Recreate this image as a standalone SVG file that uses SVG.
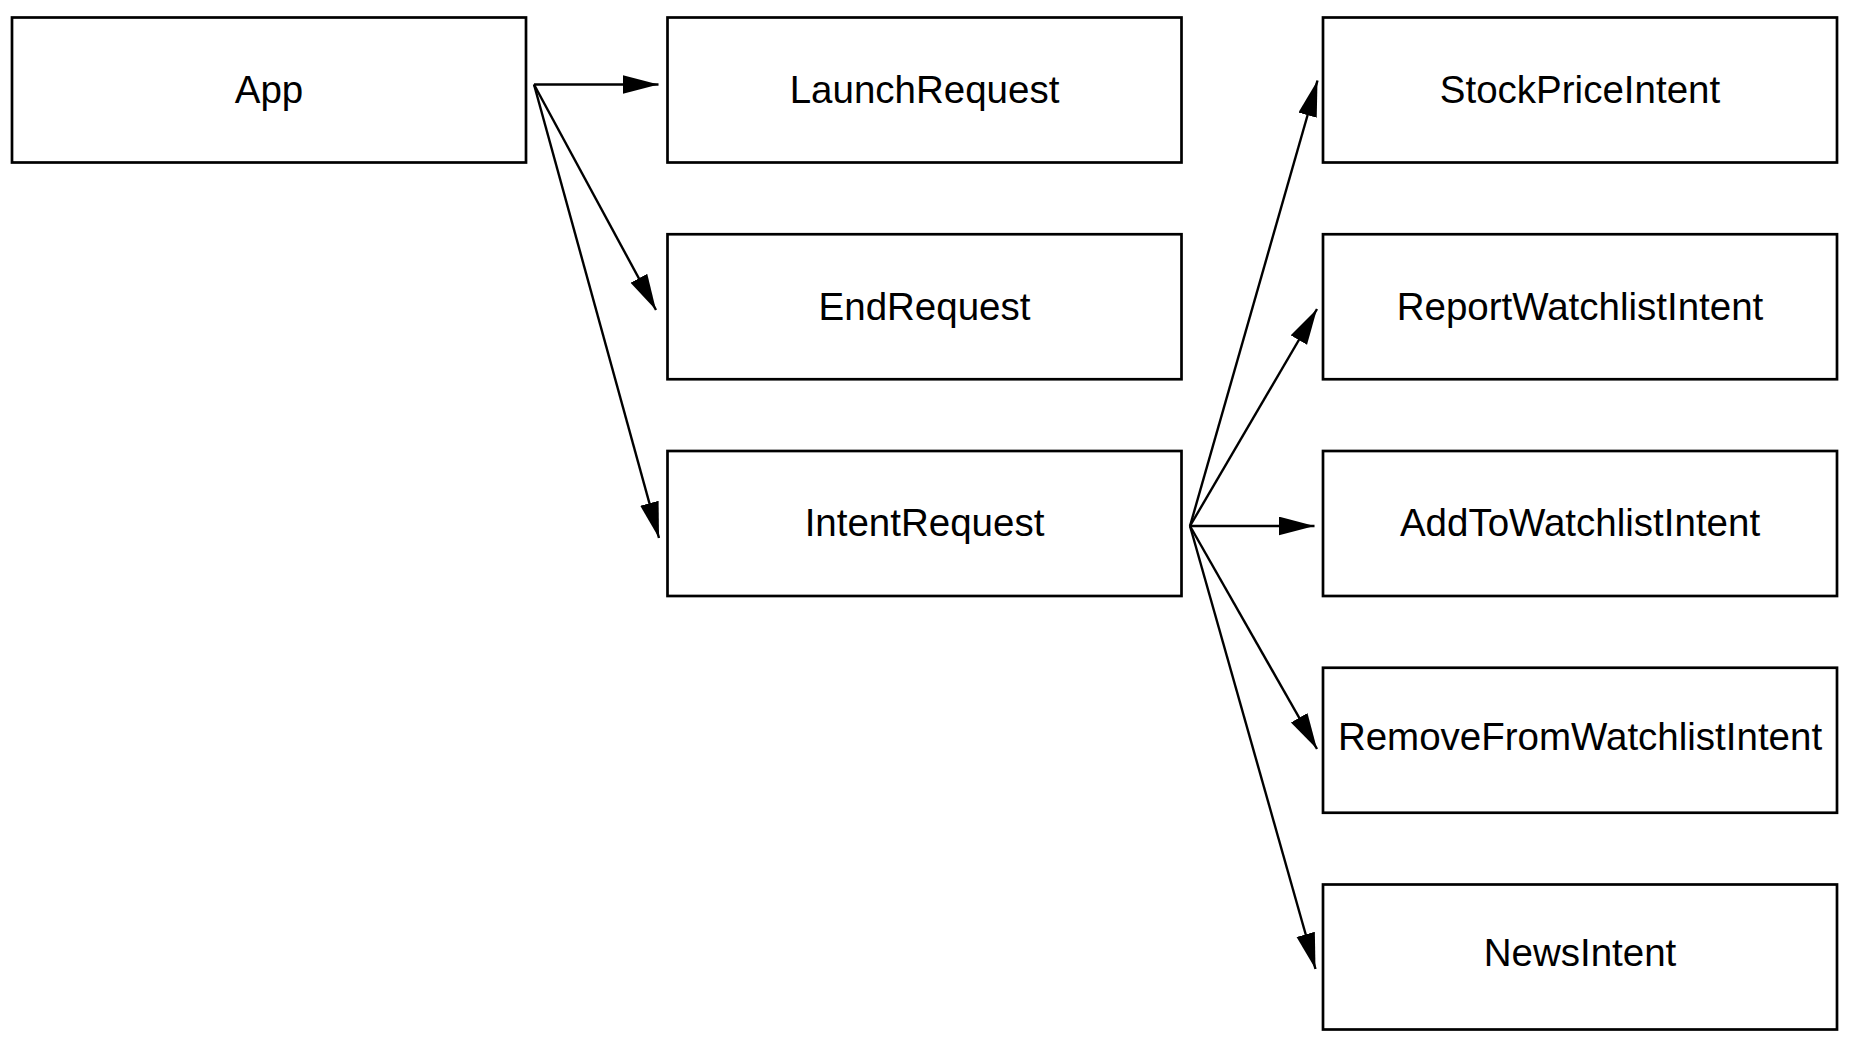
<svg xmlns="http://www.w3.org/2000/svg" width="1850" height="1042" viewBox="0 0 1850 1042">
<style>
.box{fill:#fff;stroke:#000;stroke-width:2.7}
.lbl{font-family:"Liberation Sans",Arial,sans-serif;font-size:38.5px;fill:#000;text-anchor:middle}
.edge{fill:none;stroke:#000;stroke-width:2.4}
</style>
<defs>
<marker id="ah" markerUnits="userSpaceOnUse" markerWidth="38" markerHeight="21" refX="36" refY="9.5" orient="auto" viewBox="0 0 38 21">
<path d="M0,0 L36,9.5 L0,19 Z" fill="#000"/>
</marker>
</defs>
<rect width="1850" height="1042" fill="#fff"/>
<g id="App"><rect class="box" x="12" y="17.5" width="514" height="145"/><text class="lbl" x="269" y="102.7">App</text></g>
<g id="LaunchRequest"><rect class="box" x="667.5" y="17.5" width="514" height="145"/><text class="lbl" x="924.5" y="102.7">LaunchRequest</text></g>
<g id="EndRequest"><rect class="box" x="667.5" y="234.25" width="514" height="145"/><text class="lbl" x="924.5" y="319.5">EndRequest</text></g>
<g id="IntentRequest"><rect class="box" x="667.5" y="451" width="514" height="145"/><text class="lbl" x="924.5" y="536">IntentRequest</text></g>
<g id="StockPriceIntent"><rect class="box" x="1323" y="17.5" width="514" height="145"/><text class="lbl" x="1580" y="102.7">StockPriceIntent</text></g>
<g id="ReportWatchlistIntent"><rect class="box" x="1323" y="234.25" width="514" height="145"/><text class="lbl" x="1580" y="319.5">ReportWatchlistIntent</text></g>
<g id="AddToWatchlistIntent"><rect class="box" x="1323" y="451" width="514" height="145"/><text class="lbl" x="1580" y="536">AddToWatchlistIntent</text></g>
<g id="RemoveFromWatchlistIntent"><rect class="box" x="1323" y="667.75" width="514" height="145"/><text class="lbl" x="1580" y="750.1">RemoveFromWatchlistIntent</text></g>
<g id="NewsIntent"><rect class="box" x="1323" y="884.5" width="514" height="145"/><text class="lbl" x="1580" y="965.9">NewsIntent</text></g>
<g id="connectors">
<path class="edge" d="M534,84.5 L658.5,84.5" marker-end="url(#ah)"/>
<path class="edge" d="M534,84.5 L656,310" marker-end="url(#ah)"/>
<path class="edge" d="M534,84.5 L659,538" marker-end="url(#ah)"/>
<path class="edge" d="M1190,526 L1317.5,80.5" marker-end="url(#ah)"/>
<path class="edge" d="M1190,526 L1317,309" marker-end="url(#ah)"/>
<path class="edge" d="M1190,526 L1314.5,526" marker-end="url(#ah)"/>
<path class="edge" d="M1190,526 L1317,749" marker-end="url(#ah)"/>
<path class="edge" d="M1190,526 L1315.5,969" marker-end="url(#ah)"/>
</g>
</svg>
